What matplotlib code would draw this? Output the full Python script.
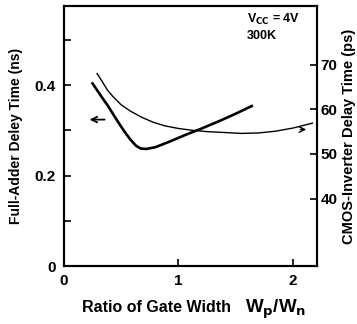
import matplotlib.pyplot as plt

plt.rcParams['font.family'] = ['Liberation Sans', 'DejaVu Sans']
plt.rcParams['font.weight'] = 'bold'
plt.rcParams['axes.labelweight'] = 'bold'

# full-adder delay (left axis, ns)
fa_ratio = [0.25, 0.29, 0.33, 0.38, 0.43, 0.48, 0.53, 0.58, 0.63, 0.67,
            0.72, 0.80, 0.93, 1.06, 1.20, 1.35, 1.50, 1.64]
fa_delay = [0.404, 0.389, 0.374, 0.356, 0.336, 0.316, 0.297, 0.280, 0.266,
            0.260, 0.259, 0.263, 0.276, 0.290, 0.304, 0.320, 0.337, 0.354]

# CMOS inverter delay (right axis, ps)
inv_ratio = [0.29, 0.33, 0.38, 0.43, 0.50, 0.58, 0.68, 0.78, 0.88, 1.00,
             1.12, 1.25, 1.40, 1.55, 1.70, 1.85, 2.00, 2.17]
inv_delay = [68.0, 66.4, 64.3, 62.8, 61.0, 59.6, 58.2, 57.1, 56.3, 55.7,
             55.3, 55.0, 54.8, 54.6, 54.7, 55.1, 55.8, 56.9]

fig = plt.figure(figsize=(3.57, 3.24), dpi=100)
ax = fig.add_axes([0.179, 0.179, 0.709, 0.802])
ax2 = ax.twinx()

ax.plot(fa_ratio, fa_delay, color='black', lw=1.9)
ax2.plot(inv_ratio, inv_delay, color='black', lw=1.0)

ax.set_xlim(0, 2.21)
ax.set_ylim(0, 0.575)
ax2.set_ylim(24.9, 83.1)

ax.set_xticks([0, 1, 2])
ax.set_xticklabels(['0', '1', '2'])
ax.set_yticks([0, 0.1, 0.2, 0.3, 0.4, 0.5])
ax.set_yticklabels(['0', '', '0.2', '', '0.4', ''])
ax2.set_yticks([40, 50, 60, 70])

for a in (ax, ax2):
    a.tick_params(direction='in', length=5, width=1.2, labelsize=11, pad=6)
    for s in a.spines.values():
        s.set_linewidth(1.5)
ax2.tick_params(pad=2.5)

# arrows pointing at the axis each curve belongs to
ax.annotate('', xy=(0.20, 0.324), xytext=(0.38, 0.324),
            arrowprops=dict(arrowstyle='->', color='black', lw=1.3))
ax.annotate('', xy=(2.14, 0.302), xytext=(2.04, 0.302),
            arrowprops=dict(arrowstyle='->', color='black', lw=1.0))

ax.text(1.60, 0.545, r'V$_{\mathbf{CC}}$ = 4V', fontsize=9, va='center')
ax.text(1.60, 0.508, '300K', fontsize=9, va='center')

ax.set_ylabel('Full-Adder Deley Time (ns)', fontsize=10, labelpad=8)
ax2.set_ylabel('CMOS-Inverter Delay Time (ps)', fontsize=10.5, labelpad=3)

fig.text(82 / 357, 1 - 308 / 324, 'Ratio of Gate Width', fontsize=11.5,
         ha='left', va='center')
fig.text(245 / 357, 1 - 309 / 324, r'W$_\mathbf{p}$/W$_\mathbf{n}$',
         fontsize=13.5, ha='left', va='center')

fig.savefig('out.png', dpi=100)
